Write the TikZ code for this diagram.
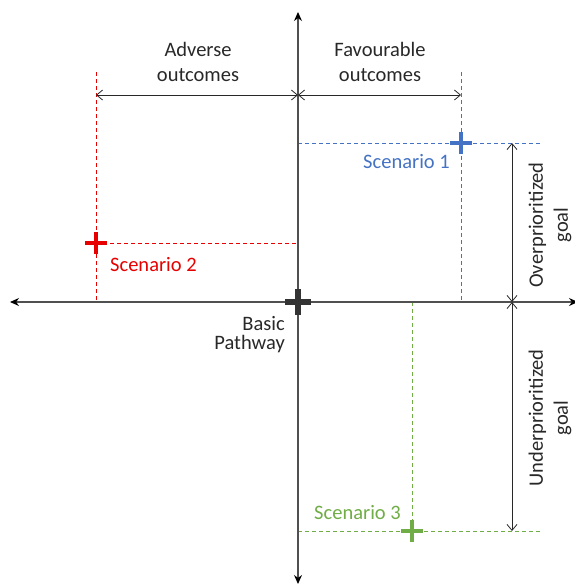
\documentclass[tikz,border=0pt]{standalone}
\usepackage{fontspec}
\setmainfont{Carlito}
\usetikzlibrary{arrows.meta}
\definecolor{cred}{RGB}{230,0,0}
\definecolor{cblue}{RGB}{68,114,196}
\definecolor{cgreen}{RGB}{112,173,71}
\definecolor{caxis}{RGB}{80,80,80}
\definecolor{ctext}{RGB}{40,40,40}
\tikzset{
  axis/.style={draw=caxis, line width=1.3pt, -{Stealth[length=9pt,width=8pt,color=black]}},
  dim/.style={draw=ctext, line width=0.8pt, {Straight Barb[length=6pt,width=10pt]}-{Straight Barb[length=6pt,width=10pt]}},
  guide/.style={dash pattern=on 4pt off 3pt, line width=1pt},
  lbl/.style={font=\fontsize{20.5}{25}\selectfont, text=ctext, align=center, inner sep=0pt},
  scen/.style={font=\fontsize{20.5}{24}\selectfont, inner sep=0pt},
}
\begin{document}
\begin{tikzpicture}[x=1pt,y=-1pt]
\useasboundingbox (0,0) rectangle (575,584);
% coordinates
\coordinate (O) at (298,302);
\coordinate (top) at (298,12);
\coordinate (bot) at (298,584);
\coordinate (left) at (10,302);
\coordinate (right) at (578,302);
\coordinate (S1) at (461,143);
\coordinate (S2) at (96,243);
\coordinate (S3) at (412,531);
% guides
\draw[guide, draw=cred] (96.5,72) -- (96.5,302);
\draw[guide, draw=cred] (96,243.5) -- (298,243.5);
\draw[guide, draw=cblue] (461.5,72) -- (461.5,302);
\draw[guide, draw=cblue] (298,143.5) -- (540,143.5);
\draw[guide, draw=cgreen] (412.5,302) -- (412.5,531);
\draw[guide, draw=cgreen] (298,531.5) -- (540,531.5);
% axes
\draw[axis] (O) -- (top);
\draw[axis] (O) -- (bot);
\draw[axis] (O) -- (left);
\draw[axis] (O) -- (right);
% dimension arrows
\coordinate (dA) at (96,95);
\coordinate (dO) at (298,95);
\coordinate (dF) at (461,95);
\draw[dim] (dA) -- (dO);
\draw[dim] (dO) -- (dF);
\coordinate (r1) at (512,143);
\coordinate (r0) at (512,302);
\coordinate (r3) at (512,531);
\draw[dim] (r1) -- (r0);
\draw[dim] (r0) -- (r3);
% labels
\node[lbl] (adv) at (198,62) {Adverse\\outcomes};
\node[lbl] (fav) at (380,62) {Favourable\\outcomes};
\node[lbl, rotate=90] (over) at (550,225) {Overprioritized\\goal};
\node[lbl, rotate=90] (under) at (550,418) {Underprioritized\\goal};
\node[lbl, align=right, anchor=east, font=\fontsize{20.5}{19}\selectfont] (basic) at (285,335) {Basic\\Pathway};
\node[scen, text=cblue, anchor=east] (s1l) at (450,162) {Scenario 1};
\node[scen, text=cred, anchor=west] (s2l) at (110,265) {Scenario 2};
\node[scen, text=cgreen, anchor=east] (s3l) at (401,513) {Scenario 3};
% plus marks
\draw[cblue, line width=4pt] (S1) ++(-11,0) -- ++(22,0) (S1) ++(0,-11) -- ++(0,22);
\draw[cred, line width=4pt] (S2) ++(-11,0) -- ++(22,0) (S2) ++(0,-11) -- ++(0,22);
\draw[cgreen, line width=4pt] (S3) ++(-11,0) -- ++(22,0) (S3) ++(0,-11) -- ++(0,22);
\draw[black!80, line width=6pt] (O) ++(-13,0) -- ++(26,0) (O) ++(0,-13) -- ++(0,26);
\end{tikzpicture}
\end{document}
